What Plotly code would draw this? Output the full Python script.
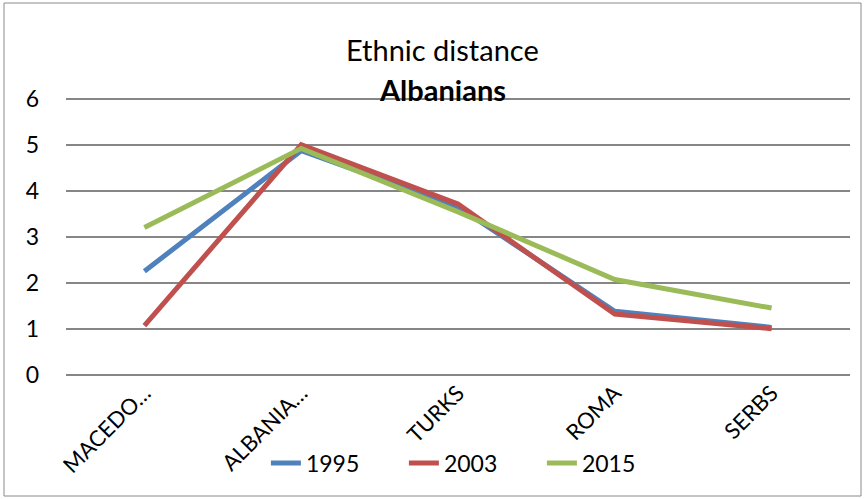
import plotly.graph_objects as go

categories = ["MACEDO…", "ALBANIA…", "TURKS", "ROMA", "SERBS"]
y1995 = [2.25, 4.87, 3.65, 1.38, 1.03]
y2003 = [1.07, 5.0, 3.71, 1.32, 1.0]
y2015 = [3.2, 4.92, 3.54, 2.07, 1.45]
series_names = ["1995", "2003", "2015"]
colors = ["#4F81BD", "#C0504D", "#9BBB59"]

FONT = "Lato, Open Sans, sans-serif"
PW, PH = 784, 280  # plot area px

fig = go.Figure()
for name, vals, col in zip(series_names, [y1995, y2003, y2015], colors):
    fig.add_trace(go.Scatter(x=categories, y=vals, mode="lines", name=name,
                             line=dict(color=col, width=5)))

fig.update_layout(
    width=865, height=499,
    margin=dict(l=66, r=15, t=95, b=124, autoexpand=False),
    paper_bgcolor="white", plot_bgcolor="white",
    font=dict(family=FONT, size=20, color="black"),
    xaxis=dict(type="category", tickangle=-45, showgrid=False, showline=False,
               ticks="", tickfont=dict(size=22), range=[-0.5, 4.5], automargin=False),
    yaxis=dict(range=[-0.005, 6.08], dtick=1, tick0=0, showgrid=True, gridcolor="#868686",
               gridwidth=1.5, zeroline=True, zerolinecolor="#868686", zerolinewidth=1.5,
               showline=False, ticks="", tickfont=dict(size=23), ticklabelstandoff=26,
               automargin=False),
    legend=dict(orientation="h", x=0.519, xanchor="center", y=-88 / PH, yanchor="middle",
                font=dict(size=23), entrywidth=93, bgcolor="rgba(0,0,0,0)"),
    showlegend=True,
)

fig.add_annotation(text="Ethnic distance", xref="paper", yref="paper", x=0.48, y=1 + 45 / PH,
                   yanchor="middle", showarrow=False, font=dict(size=29, family=FONT))
fig.add_annotation(text="<b>Albanians</b>", xref="paper", yref="paper", x=0.48, y=1 + 6 / PH,
                   yanchor="middle", showarrow=False, font=dict(size=29, family=FONT))

fig.add_shape(type="rect", xref="paper", yref="paper", x0=(4 - 66) / PW, x1=(861 - 66) / PW,
              y0=-(496 - 375) / PH, y1=1 + (95 - 3) / PH, line=dict(color="#8a8a8a", width=1))

fig.write_html("out.html", config={"displayModeBar": False})

with open("out.html", "r", encoding="utf-8") as f:
    html = f.read()
html = html.replace("<body>", '<body style="margin:0;padding:0;">', 1)
with open("out.html", "w", encoding="utf-8") as f:
    f.write(html)
